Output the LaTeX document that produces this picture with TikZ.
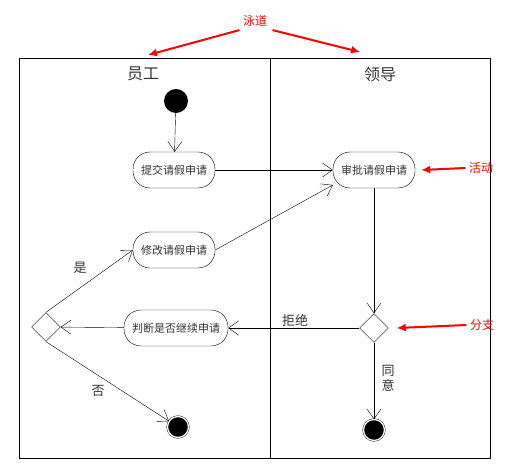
\documentclass[tikz,border=0pt]{standalone}
\usepackage{fontspec}
\setmainfont{Noto Sans CJK SC}
\usepackage{tikz}
\usetikzlibrary{arrows.meta, shapes.geometric}

\begin{document}
\begin{tikzpicture}[
        x=1pt, y=-1pt,
        activity/.style={
            rectangle,
            rounded corners=17pt,
            draw=black,
            minimum width=82pt,
            minimum height=36pt,
            inner sep=2pt,
            text=black!80,
            font=\fontsize{11}{13}\selectfont
        },
        branch/.style={
            diamond,
            draw=black,
            minimum width=29pt,
            minimum height=29pt,
            inner sep=0pt
        },
        startdot/.style={circle, fill=black, minimum size=24pt, inner sep=0pt},
        enddot/.style={
            circle,
            fill=black,
            draw=black,
            double=white,
            double distance=1.3pt,
            minimum size=21pt,
            inner sep=0pt
        },
        label/.style={text=black!80, font=\fontsize{13}{15}\selectfont},
        note/.style={text=red, font=\fontsize{12}{14}\selectfont},
        arrow/.style={
            -{Straight Barb[length=10pt, width=14pt]},
            black
        },
        redarrow/.style={
            -{Latex[length=9pt, width=8pt]},
            line width=2pt,
            red
        }
    ]
    \useasboundingbox (0,0) rectangle (512,471);

    % Swimlanes
    \draw[black] (19,58) rectangle (490,458);
    \draw[black] (270,58) -- (270,458);
    \node[font=\fontsize{16}{18}\selectfont, text=black!80] (yuangong) at (143,74) {员工};
    \node[font=\fontsize{16}{18}\selectfont, text=black!80] (lingdao)  at (380,74) {领导};

    % Employee lane
    \node[startdot] (start) at (176,101) {};
    \node[activity] (tijiao) at (174,170) {提交请假申请};
    \node[activity] (xiugai) at (174,250) {修改请假申请};
    \node[activity, minimum width=104pt] (panduan) at (176,328) {判断是否继续申请};
    \node[branch] (jixu) at (46,327) {};
    \node[enddot] (endleft) at (178,427) {};

    % Leader lane
    \node[activity] (shenpi) at (374,170) {审批请假申请};
    \node[branch] (shenhe) at (374,328) {};
    \node[enddot] (endright) at (374,430) {};

    % Flow
    \draw[arrow] (start) -- (tijiao);
    \draw[arrow] (tijiao) -- (shenpi);
    \draw[arrow] (xiugai.east) -- (shenpi.200);
    \draw[arrow] (shenpi) -- (shenhe);
    \draw[arrow] (shenhe) -- (panduan);
    \draw[arrow] (panduan) -- (jixu);
    \draw[arrow] (jixu.north) -- (xiugai.west);
    \draw[arrow] (jixu.south) -- (endleft);
    \draw[arrow] (shenhe) -- (endright);

    % Branch labels
    \node[label] (shi)   at (80,268) {是};
    \node[label] (fou)   at (98,391) {否};
    \node[label] (jujue) at (295,320) {拒绝};
    \node[label, align=center, font=\fontsize{13}{15}\selectfont] (tongyi) at (388,378) {同\\意};

    % Annotations
    \node[note] (yongdao) at (255,21) {泳道};
    \coordinate (laneL) at (148,55);
    \coordinate (laneR) at (360,52);
    \draw[redarrow] (yongdao.south west) -- (laneL);
    \draw[redarrow] ([xshift=2pt]yongdao.south east) -- (laneR);

    \node[note] (huodong) at (481,168) {活动};
    \draw[redarrow] (huodong.west) -- ([xshift=6pt]shenpi.east);

    \node[note] (fenzhi) at (482,325) {分支};
    \draw[redarrow] (fenzhi.west) -- ([xshift=8pt]shenhe.east);

\end{tikzpicture}
\end{document}
